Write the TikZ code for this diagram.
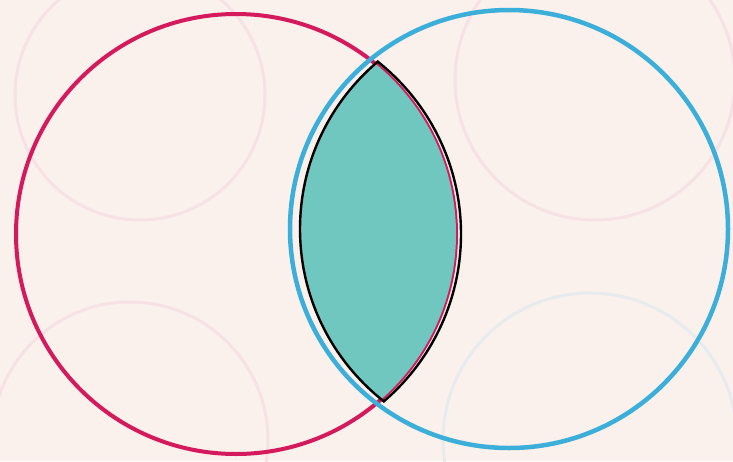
\documentclass[tikz,border=0pt]{standalone}
\definecolor{paper}{HTML}{FAF0EC}
\definecolor{setred}{HTML}{D41A5C}
\definecolor{setblue}{HTML}{3BAFD9}
\definecolor{lensfill}{HTML}{70C7C0}
\definecolor{ghostpink}{HTML}{F6E2E5}
\definecolor{ghostblue}{HTML}{E8EBEE}
\begin{document}
\begin{tikzpicture}[x=1pt,y=-1pt,
  ghost/.style={line width=3pt},
  setline/.style={line width=4pt}]
\useasboundingbox (0,0) rectangle (733,461);
\fill[paper] (0,0) rectangle (733,461);

% faint circles showing through the page
\draw[ghost,ghostpink] (140,95) circle (125);
\draw[ghost,ghostpink] (595,80) circle (140);
\draw[ghost,ghostpink] (130,440) circle (138);
\draw[ghost,ghostblue] (590,440) circle (147);

\coordinate (A) at (236,234);
\coordinate (B) at (509,229);
\coordinate (A') at (241,234);
\coordinate (B') at (519,229);

\draw[setline,setred] (A) circle (220);

% shaded common part
\begin{scope}
\clip (A) circle (220);
\fill[lensfill] (B') circle (219);
\end{scope}

\draw[setline,setblue,line width=4.5pt] (B) circle (219);

% black outline of the common part
\begin{scope}
\clip (A') circle (221);
\draw[black,line width=2.4pt] (B') circle (219);
\end{scope}
\begin{scope}
\clip (B') circle (220);
\draw[black,line width=2.4pt] (A') circle (220);
\end{scope}
\end{tikzpicture}
\end{document}
